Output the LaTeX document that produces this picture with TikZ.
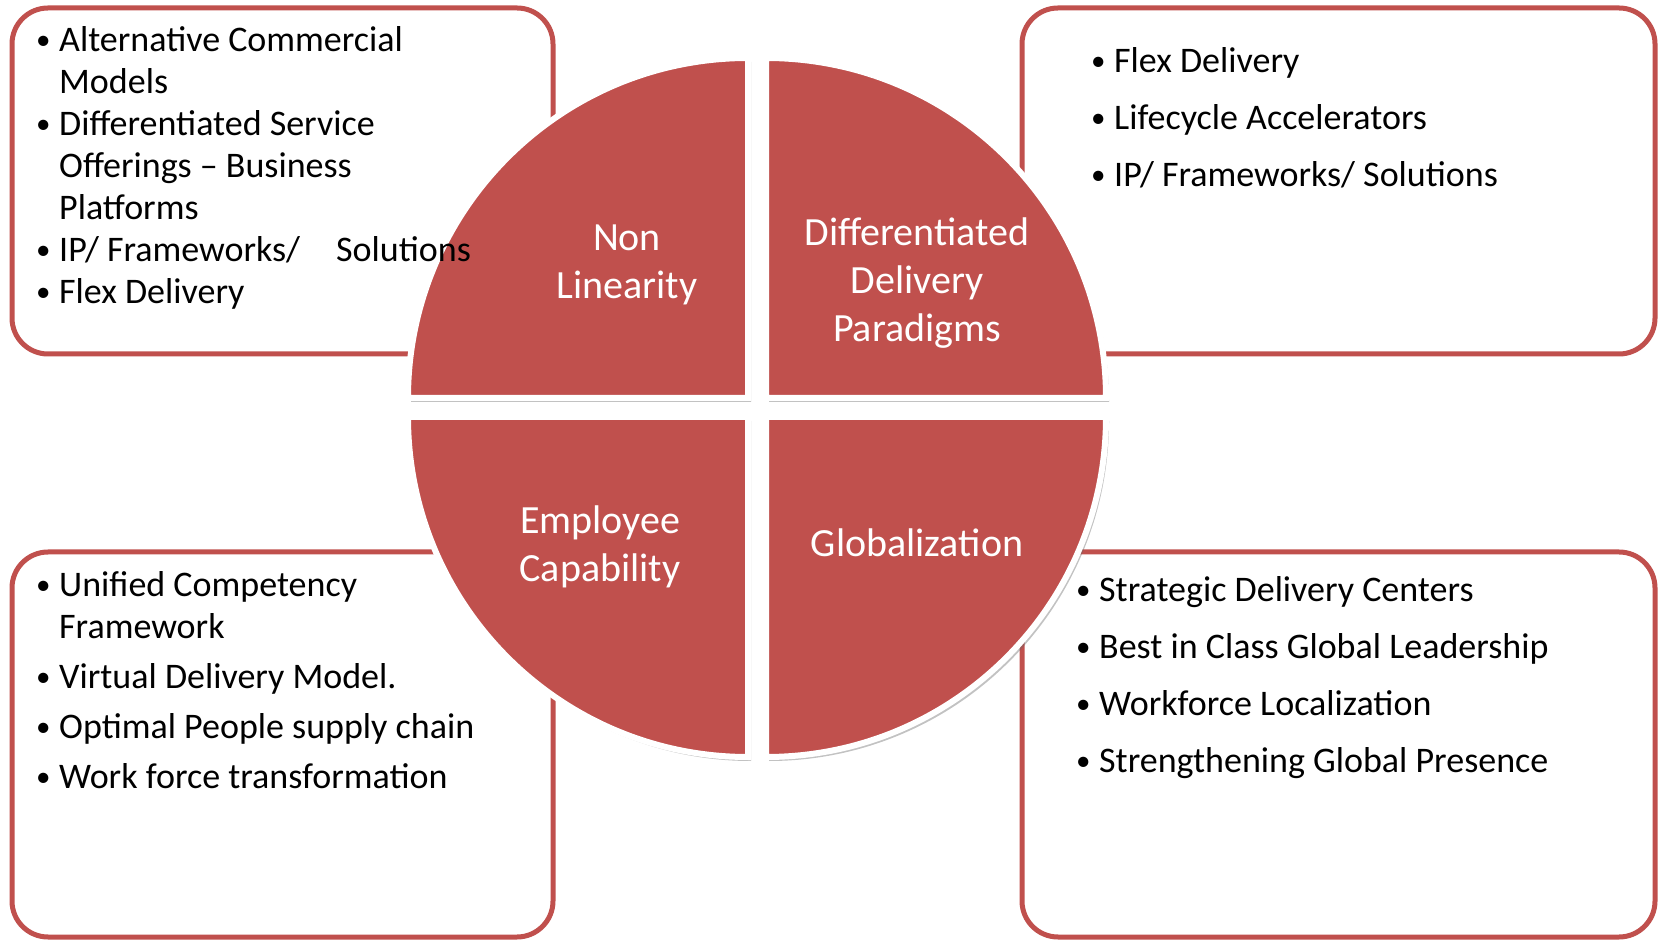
\documentclass[tikz,border=0pt]{standalone}
\usepackage{fontspec}
\setmainfont{Carlito}
\usepackage{tikz}
\usetikzlibrary{shadows}
\definecolor{pieRed}{HTML}{C0504D}
\newcommand{\bul}{\makebox[23pt][l]{\raisebox{2pt}{\fontsize{29}{29}\selectfont •}}}
\newcommand{\ind}{\hspace*{23pt}}

\begin{document}
\begin{tikzpicture}[x=1pt, y=1pt,
    box/.style={draw=pieRed, line width=5pt, rounded corners=36pt},
    quad/.style={fill=pieRed, draw=white, line width=6pt,
        drop shadow={shadow xshift=3pt, shadow yshift=-4pt, opacity=0.4, fill=black!60}},
    list/.style={inner sep=0pt, anchor=base west, font=\fontsize{36}{42}\selectfont},
    quadtext/.style={text=white, align=center, font=\fontsize{40}{48}\selectfont}]
    \useasboundingbox (0,0) rectangle (1659,940);

    % Outer boxes
    \draw[box] (12,932) rectangle (553,586);
    \draw[box] (1022,932) rectangle (1655,586);
    \draw[box] (12,388) rectangle (553,3);
    \draw[box] (1022,388) rectangle (1655,3);

    % Quarters of the pie
    \path[quad] (748,542) -- ++(-340,0) arc[start angle=180, end angle=90, radius=340] -- cycle;
    \path[quad] (766,542) -- ++(0,340) arc[start angle=90, end angle=0, radius=340] -- cycle;
    \path[quad] (748,523) -- ++(0,-340) arc[start angle=270, end angle=180, radius=340] -- cycle;
    \path[quad] (766,523) -- ++(340,0) arc[start angle=0, end angle=-90, radius=340] -- cycle;

    % Quarter labels
    \node[quadtext] (nonlin) at (627,675) {Non\\Linearity};
    \node[quadtext] (ddp) at (917,657) {Differentiated\\Delivery\\Paradigms};
    \node[quadtext] (empcap) at (600,393) {Employee\\Capability};
    \node[quadtext] (global) at (917,397) {Globalization};

    % Lists
    \node[list] (nonlinlist) at (36,888) {\begin{tabular}[t]{@{}l@{}}
        \bul Alternative Commercial\\
        \ind Models\\
        \bul Differentiated Service\\
        \ind Offerings – Business\\
        \ind Platforms\\
        \bul IP/ Frameworks/\hspace{28pt} Solutions\\
        \bul Flex Delivery
        \end{tabular}};
    \node[list] (ddplist) at (1091,867) {\begin{tabular}[t]{@{}l@{}}
        \bul Flex Delivery\\[15pt]
        \bul Lifecycle Accelerators\\[15pt]
        \bul IP/ Frameworks/ Solutions
        \end{tabular}};
    \node[list] (empcaplist) at (36,343) {\begin{tabular}[t]{@{}l@{}}
        \bul Unified Competency\\
        \ind Framework\\[8pt]
        \bul Virtual Delivery Model.\\[8pt]
        \bul Optimal People supply chain\\[8pt]
        \bul Work force transformation
        \end{tabular}};
    \node[list] (globallist) at (1076,338) {\begin{tabular}[t]{@{}l@{}}
        \bul Strategic Delivery Centers\\[15pt]
        \bul Best in Class Global Leadership\\[15pt]
        \bul Workforce Localization\\[15pt]
        \bul Strengthening Global Presence
        \end{tabular}};
\end{tikzpicture}
\end{document}
